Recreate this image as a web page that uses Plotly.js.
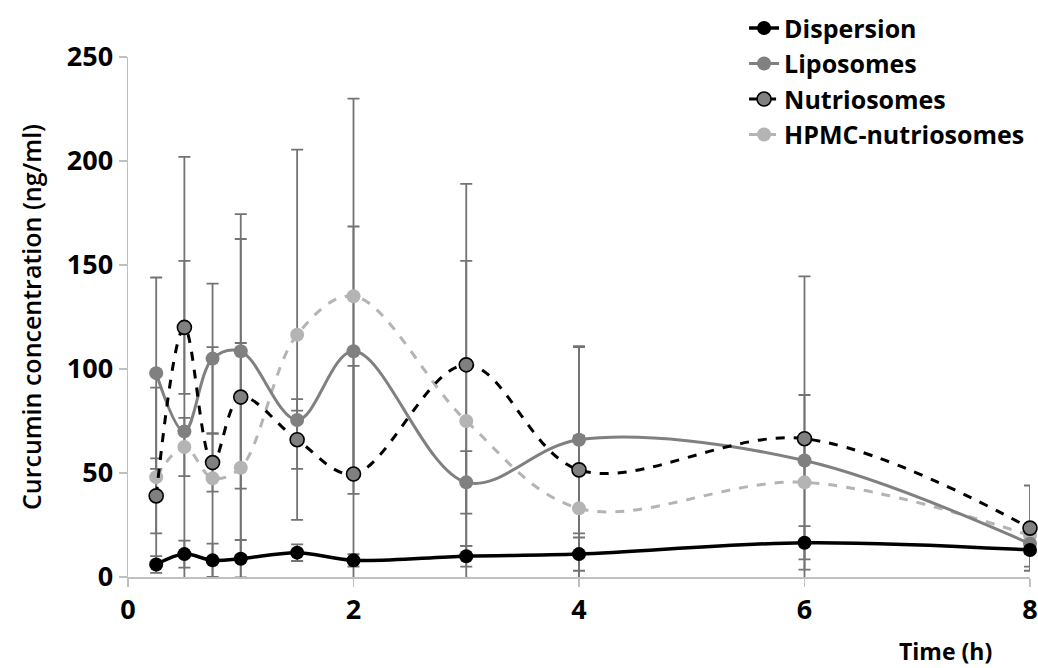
<!DOCTYPE html>
<html>
<head>
<meta charset="utf-8">
<script src="https://cdn.plot.ly/plotly-3.0.1.min.js"></script>
<style>html,body{margin:0;padding:0;background:#fff;}#chart{width:1038px;height:668px;}</style>
</head>
<body>
<div id="chart"></div>
<script>
// Time points (h)
const timeH = [0.25, 0.5, 0.75, 1, 1.5, 2, 3, 4, 6, 8];

// Mean curcumin concentrations (ng/ml)
const dispersion   = [6, 11, 8, 8.8, 11.7, 8, 10, 11, 16.5, 13];
const liposomes    = [98, 70, 105, 108.5, 75.5, 108.5, 45.5, 66, 56, 16];
const nutriosomes  = [39, 120, 55, 86.5, 66, 49.5, 102, 51.5, 66.5, 23.5];
const hpmcNutrio   = [48, 62.5, 47.5, 52.5, 116.5, 135, 75, 33, 45.5, 20];

// Standard deviations (ng/ml)
const dispersionSD  = [4, 6.5, 8, 9, 4, 3, 5, 8, 8, 8];
const liposomesSD   = [46, 132, 36, 66, 10, 60, 15, 45, 10, 5];
const nutriosomesSD = [18, 32, 14, 76, 14, 52, 87, 59, 78, 20.5];
const hpmcSD        = [43, 14, 63, 60, 89, 95, 77, 35, 42, 4];

const seriesNames = ["Dispersion", "Liposomes", "Nutriosomes", "HPMC-nutriosomes"];
const yTicks = [0, 50, 100, 150, 200, 250];
const xTicks = [0, 2, 4, 6, 8];

const FONT = "'Open Sans', 'Noto Sans', sans-serif";
const ERR_COLOR = "#737373";

function errTrace(y, sd) {
  return {
    x: timeH, y: y, type: "scatter", mode: "markers",
    marker: {size: 1, opacity: 0},
    error_y: {type: "data", array: sd, visible: true, color: ERR_COLOR, thickness: 1.8, width: 6},
    showlegend: false, hoverinfo: "skip"
  };
}

const data = [
  errTrace(dispersion, dispersionSD),
  errTrace(liposomes, liposomesSD),
  errTrace(nutriosomes, nutriosomesSD),
  errTrace(hpmcNutrio, hpmcSD),
  {
    x: timeH, y: hpmcNutrio, name: seriesNames[3], type: "scatter", mode: "lines+markers",
    line: {color: "#b4b4b4", width: 3, dash: "dash", shape: "spline", smoothing: 1},
    marker: {color: "#b4b4b4", size: 14}, legendrank: 4, legendgroup: "h", cliponaxis: false
  },
  {
    x: timeH, y: liposomes, name: seriesNames[1], type: "scatter", mode: "lines+markers",
    line: {color: "#808080", width: 3, shape: "spline", smoothing: 1},
    marker: {color: "#808080", size: 14}, legendrank: 2, legendgroup: "l", cliponaxis: false
  },
  {
    x: timeH, y: nutriosomes, name: seriesNames[2], type: "scatter", mode: "lines+markers",
    line: {color: "#000000", width: 3, dash: "dash", shape: "spline", smoothing: 1},
    marker: {color: "#808080", size: 14, line: {color: "#000000", width: 1.6}}, legendrank: 3, legendgroup: "n", cliponaxis: false
  },
  {
    x: timeH, y: dispersion, name: seriesNames[0], type: "scatter", mode: "lines+markers",
    line: {color: "#000000", width: 3.5, shape: "spline", smoothing: 1},
    marker: {color: "#000000", size: 14}, legendrank: 1, legendgroup: "d", cliponaxis: false
  }
];

const layout = {
  width: 1038, height: 668,
  paper_bgcolor: "#ffffff", plot_bgcolor: "#ffffff",
  margin: {l: 128, r: 8, t: 57, b: 91, autoexpand: false},
  font: {family: FONT, color: "#000"},
  showlegend: true,
  legend: {
    x: 0.683, y: 1.0995, xanchor: "left", yanchor: "top",
    bgcolor: "rgba(0,0,0,0)", tracegroupgap: 0,
    font: {family: FONT, size: 25, color: "#000", weight: 700}
  },
  xaxis: {
    range: [0, 8], tickvals: xTicks, ticktext: xTicks.map(String),
    showgrid: false, zeroline: false, automargin: false,
    showline: true, linecolor: "#c0c0c0", linewidth: 1.5,
    ticks: "outside", ticklen: 8, tickcolor: "#c0c0c0", tickwidth: 1.5,
    tickfont: {family: FONT, size: 27, color: "#000", weight: 700}
  },
  yaxis: {
    range: [0, 250], tickvals: yTicks, ticktext: yTicks.map(String),
    showgrid: false, zeroline: false, automargin: false,
    showline: true, linecolor: "#c0c0c0", linewidth: 1.5,
    ticks: "outside", ticklen: 8, tickcolor: "#c0c0c0", tickwidth: 1.5,
    tickfont: {family: FONT, size: 27, color: "#000", weight: 700},
    title: {text: "Curcumin concentration (ng/ml)", standoff: 18,
            font: {family: FONT, size: 25, color: "#000", weight: 600}}
  },
  annotations: [{
    text: "Time (h)", xref: "paper", yref: "paper", x: 0.906, y: -0.142,
    xanchor: "center", yanchor: "middle", showarrow: false,
    font: {family: FONT, size: 23, color: "#000", weight: 700}
  }]
};

Plotly.newPlot("chart", data, layout, {staticPlot: true, displayModeBar: false});
</script>
</body>
</html>
